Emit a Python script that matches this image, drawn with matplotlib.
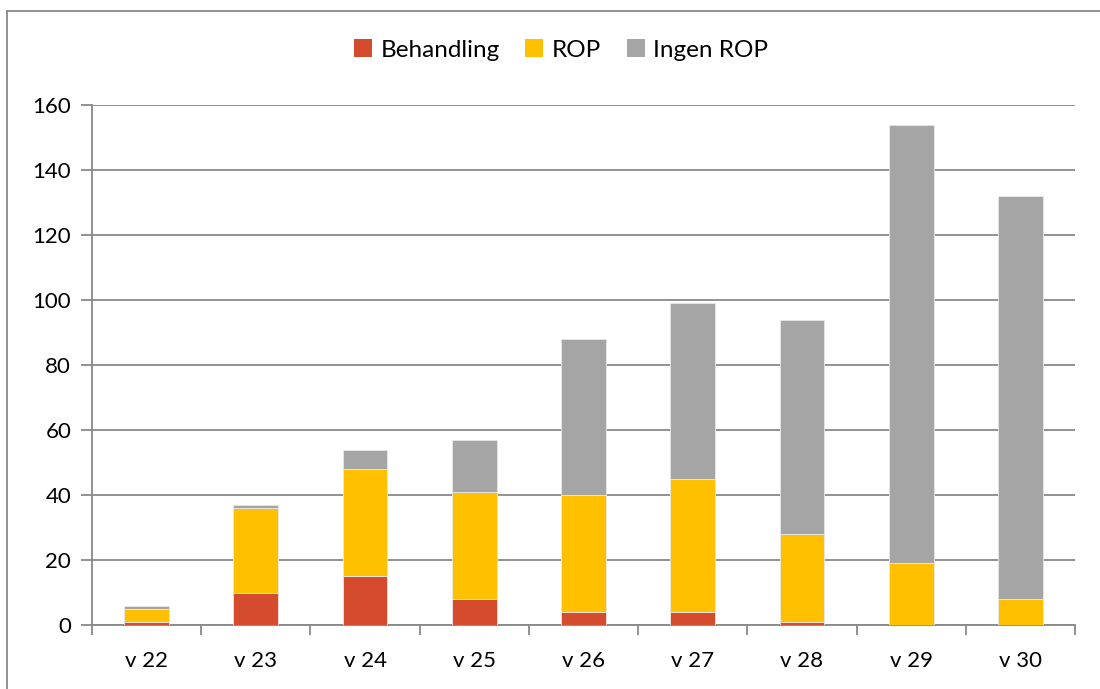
import matplotlib.pyplot as plt
import numpy as np
from matplotlib.lines import Line2D
from matplotlib.patches import Patch

# Data
weeks = ['v 22', 'v 23', 'v 24', 'v 25', 'v 26', 'v 27', 'v 28', 'v 29', 'v 30']
behandling = [1, 10, 15, 8, 4, 4, 1, 0, 0]
rop = [4, 26, 33, 33, 36, 41, 27, 19, 8]
ingen_rop = [1, 1, 6, 16, 48, 54, 66, 135, 124]

series_names = ['Behandling', 'ROP', 'Ingen ROP']
colors = ['#D54B2D', '#FFC000', '#A5A5A5']
y_ticks = [0, 20, 40, 60, 80, 100, 120, 140, 160]

plt.rcParams['font.family'] = ['Lato', 'DejaVu Sans']
axis_gray = '#898989'

fig = plt.figure(figsize=(11, 6.89), dpi=100)
ax = fig.add_axes([92 / 1100, 1 - 625 / 689, (1075 - 92) / 1100, (625 - 105) / 689])

x = np.arange(len(weeks))
bottom = np.zeros(len(weeks))
for vals, name, col in zip([behandling, rop, ingen_rop], series_names, colors):
    ax.bar(x, vals, width=0.41, bottom=bottom, color=col, label=name,
           edgecolor='#E8E8E8', linewidth=0.6, zorder=3)
    bottom += np.array(vals)

ax.set_xlim(-0.5, len(weeks) - 0.5)
ax.set_ylim(0, 160)
ax.set_yticks(y_ticks)
ax.tick_params(axis='y', labelsize=16, length=8, color=axis_gray, width=1.3, pad=7)
ax.set_xticks(x)
ax.set_xticklabels(weeks)
ax.tick_params(axis='x', which='major', length=0, labelsize=16, pad=19)
ax.set_xticks(np.arange(-0.5, len(weeks)), minor=True)
ax.tick_params(axis='x', which='minor', length=7, color=axis_gray, width=1.3)

ax.grid(axis='y', color=axis_gray, linewidth=1.3, zorder=0)
for side in ['top', 'right']:
    ax.spines[side].set_visible(False)
for side in ['left', 'bottom']:
    ax.spines[side].set_color(axis_gray)
    ax.spines[side].set_linewidth(1.3)

handles = [Patch(facecolor=c, edgecolor='none') for c in colors]
fig.legend(handles, series_names, loc='center', bbox_to_anchor=(561 / 1100, 1 - 50 / 689),
           ncol=3, frameon=False, fontsize=17.5, handlelength=0.75, handleheight=0.75,
           handletextpad=0.35, columnspacing=1.05)

# chart area border (extends past the right and bottom edge)
fig.add_artist(Line2D([7 / 1100, 7 / 1100], [0, 1 - 11 / 689], color=axis_gray, linewidth=1.3))
fig.add_artist(Line2D([7 / 1100, 1], [1 - 11 / 689, 1 - 11 / 689], color=axis_gray, linewidth=1.3))

fig.savefig('out.png', dpi=100)
